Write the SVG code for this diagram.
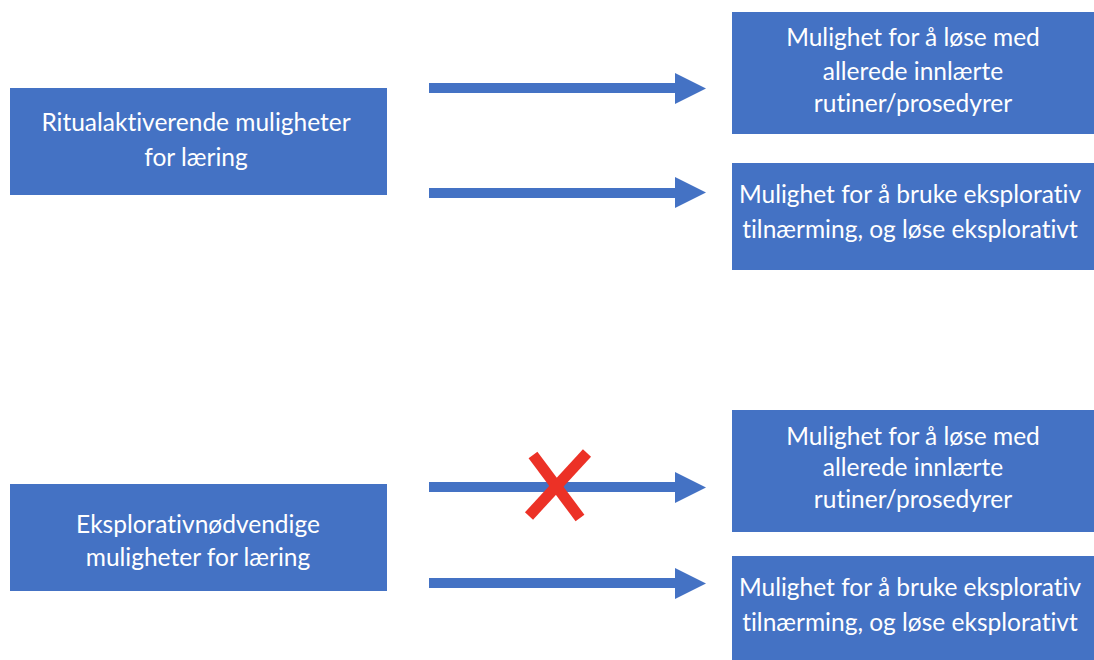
<svg xmlns="http://www.w3.org/2000/svg" width="1094" height="660" viewBox="0 0 1094 660">
<style>
.box{fill:#4472C4;}
.t{fill:#FFFFFF;font-family:Lato,"Liberation Sans",sans-serif;font-size:24.5px;text-anchor:middle;font-variant-ligatures:none;}
.shaft{stroke:#4472C4;stroke-width:10;fill:none;}
.head{fill:#4472C4;}
.x{stroke:#EC3126;stroke-width:11;stroke-linecap:butt;}
</style>
<rect width="1094" height="660" fill="#FFFFFF"/>
<g id="node-ritual">
<rect class="box" x="10" y="88" width="377" height="107"/>
<text class="t" x="196" y="131">Ritualaktiverende muligheter</text>
<text class="t" x="196" y="166">for læring</text>
</g>
<g id="node-top-r1">
<rect class="box" x="732" y="12" width="362" height="122"/>
<text class="t" x="913" y="46">Mulighet for å løse med</text>
<text class="t" x="913" y="80">allerede innlærte</text>
<text class="t" x="913" y="112">rutiner/prosedyrer</text>
</g>
<g id="node-top-r2">
<rect class="box" x="732" y="163" width="362" height="107"/>
<text class="t" x="910" y="203">Mulighet for å bruke eksplorativ</text>
<text class="t" x="910" y="238">tilnærming, og løse eksplorativt</text>
</g>
<g id="node-eksplorativ">
<rect class="box" x="10" y="484" width="377" height="107"/>
<text class="t" x="198" y="533">Eksplorativnødvendige</text>
<text class="t" x="198" y="566">muligheter for læring</text>
</g>
<g id="node-bot-r1">
<rect class="box" x="732" y="410" width="362" height="122"/>
<text class="t" x="913" y="445">Mulighet for å løse med</text>
<text class="t" x="913" y="476">allerede innlærte</text>
<text class="t" x="913" y="508">rutiner/prosedyrer</text>
</g>
<g id="node-bot-r2">
<rect class="box" x="732" y="556" width="362" height="110"/>
<text class="t" x="910" y="596">Mulighet for å bruke eksplorativ</text>
<text class="t" x="910" y="631">tilnærming, og løse eksplorativt</text>
</g>
<g id="connectors">
<line class="shaft" x1="429" y1="88" x2="677" y2="88"/>
<polygon class="head" points="675,73 706,88.5 675,104"/>
<line class="shaft" x1="429" y1="193" x2="677" y2="193"/>
<polygon class="head" points="675,177 706,192.5 675,208"/>
<line class="shaft" x1="429" y1="487" x2="677" y2="487"/>
<polygon class="head" points="675,472 706,487.5 675,503"/>
<line class="shaft" x1="429" y1="583" x2="677" y2="583"/>
<polygon class="head" points="675,568 706,583.5 675,599"/>
</g>
<g id="cross">
<line class="x" x1="533" y1="455" x2="580" y2="518"/>
<line class="x" x1="587" y1="453" x2="529" y2="516"/>
</g>
</svg>
